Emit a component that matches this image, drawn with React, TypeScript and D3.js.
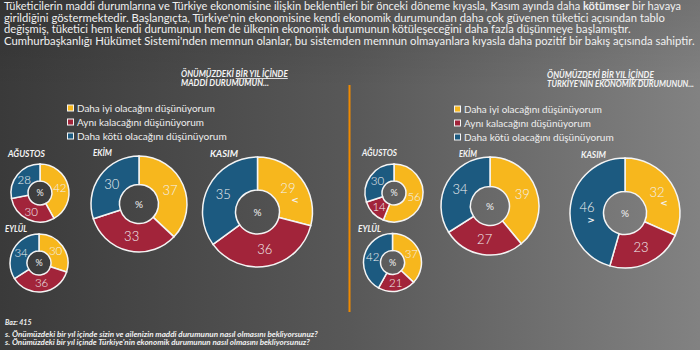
import { useLayoutEffect, useRef, useState } from "react";
import * as d3 from "d3";

const categories = ["Daha iyi olacağını düşünüyorum", "Aynı kalacağını düşünüyorum", "Daha kötü olacağını düşünüyorum"];
const months = ["AĞUSTOS", "EYLÜL", "EKİM", "KASIM"];
// values per month: [better, same, worse]
const personal = [[42, 30, 28], [30, 36, 34], [37, 33, 30], [29, 36, 35]];
const national = [[56, 14, 30], [37, 21, 42], [39, 27, 34], [32, 23, 46]];
// change markers: [panel, month, slice, symbol]
const markers: [number, number, number, string][] = [[0, 3, 0, "<"], [1, 3, 0, "<"], [1, 3, 2, ">"]];

const headerLines = [
  ["Tüketicilerin maddi durumlarına ve Türkiye ekonomisine ilişkin beklentileri bir önceki döneme kıyasla, Kasım ayında daha ", "kötümser", " bir havaya"],
  ["girildiğini göstermektedir. Başlangıçta, Türkiye'nin ekonomisine kendi ekonomik durumundan daha çok güvenen tüketici açısından tablo"],
  ["değişmiş, tüketici hem kendi durumunun hem de ülkenin ekonomik durumunun kötüleşeceğini daha fazla düşünmeye başlamıştır."],
  ["Cumhurbaşkanlığı Hükümet Sistemi'nden memnun olanlar, bu sistemden memnun olmayanlara kıyasla daha pozitif bir bakış açısında sahiptir."],
];
const headerWidths = [678, 662, 627, 691];
const footnotes = [
  "s. Önümüzdeki bir yıl içinde sizin ve ailenizin maddi durumunun nasıl olmasını bekliyorsunuz?",
  "s. Önümüzdeki bir yıl içinde Türkiye'nin ekonomik durumunun nasıl olmasını bekliyorsunuz?",
];

const colors = ["#F7B71D", "#A2243A", "#1C5A80"];
const font = "Lato, 'DejaVu Sans', sans-serif";

const panels = [
  {
    data: personal,
    title: ["ÖNÜMÜZDEKİ ", "BİR YIL İÇİNDE", "MADDİ DURUMUMUN..."],
    titleX: 181, titleY: 77, titleW: [107, 88],
    legendX: 70, legendY: 108,
    pies: [
      { cx: 40, cy: 193, r: 29, ri: 12, lx: 8, ly: 157, lw: 37 },
      { cx: 39, cy: 263, r: 29, ri: 12, lx: 5, ly: 232, lw: 22 },
      { cx: 139, cy: 204, r: 48, ri: 19.5, lx: 93, ly: 156, lw: 19 },
      { cx: 257.5, cy: 212, r: 55, ri: 22, lx: 210, ly: 157, lw: 28 },
    ],
  },
  {
    data: national,
    title: ["ÖNÜMÜZDEKİ ", "BİR YIL İÇİNDE", "TÜRKİYE'NİN EKONOMİK DURUMUNUN..."],
    titleX: 547, titleY: 78, titleW: [107, 147],
    legendX: 457, legendY: 109,
    pies: [
      { cx: 394, cy: 193, r: 29, ri: 12, lx: 362, ly: 156, lw: 35 },
      { cx: 392.5, cy: 262.5, r: 29, ri: 12, lx: 358, ly: 232, lw: 23 },
      { cx: 490, cy: 206, r: 49, ri: 19.5, lx: 459, ly: 157, lw: 18 },
      { cx: 625, cy: 213, r: 55, ri: 21.5, lx: 581, ly: 158, lw: 25 },
    ],
  },
];

const legendWidths = [138, 127, 150];

// text squeezed/stretched horizontally to a measured width
function FitText({ x, y, width, children, ...rest }: any) {
  const ref = useRef<SVGTextElement>(null);
  const [k, setK] = useState(1);
  useLayoutEffect(() => {
    const len = ref.current ? ref.current.getComputedTextLength() : 0;
    if (len > 0) setK(width / len);
  }, [width]);
  return (
    <text ref={ref} transform={`translate(${x},${y}) scale(${k},1)`} {...rest}>
      {children}
    </text>
  );
}

function Donut({ values, p, panelIdx, monthIdx }: any) {
  const pie = d3.pie<number>().sort(null).value((d) => d);
  const arcs = pie(values);
  const arc = d3.arc<d3.PieArcDatum<number>>().innerRadius(p.ri).outerRadius(p.r);
  const big = p.r > 40;
  return (
    <g transform={`translate(${p.cx},${p.cy})`}>
      {arcs.map((a, i) => (
        <path key={i} d={arc(a) || ""} fill={colors[i]} stroke="#f4f4f4" strokeWidth={1.5} />
      ))}
      {arcs.map((a, i) => {
        const [x, y] = arc.centroid(a);
        const m = markers.find((k) => k[0] === panelIdx && k[1] === monthIdx && k[2] === i);
        return (
          <g key={"l" + i}>
            <text x={x} y={y} dy="0.35em" textAnchor="middle" fill="#f2f2f2" fontSize={big ? 13 : 11.5} fontFamily={font} fontWeight={300}>
              {a.data}
            </text>
            {m && (
              <text x={x + (i === 2 ? 4 : 7)} y={y + (i === 2 ? 12 : 11)} dy="0.35em" textAnchor="middle" fill="#f2f2f2" fontSize={9} fontWeight="bold" fontFamily="'DejaVu Sans', sans-serif">
                {m[3]}
              </text>
            )}
          </g>
        );
      })}
      <text x={0} y={0} dy="0.35em" textAnchor="middle" fill="#f2f2f2" fontSize={big ? 10 : 9} fontFamily={font}>%</text>
    </g>
  );
}

export default function App() {
  return (
    <div style={{ position: "absolute", left: 0, top: 0 }}>
      <svg width={700} height={350} viewBox="0 0 700 350" style={{ display: "block" }}>
        <defs>
          <linearGradient id="bg" x1="0" y1="0" x2="1" y2="0">
            <stop offset="0" stopColor="#3a3a3a" />
            <stop offset="0.5" stopColor="#585858" />
            <stop offset="1" stopColor="#828282" />
          </linearGradient>
          <linearGradient id="shade" x1="0" y1="0" x2="0" y2="1">
            <stop offset="0" stopColor="#000" stopOpacity={0.12} />
            <stop offset="0.25" stopColor="#000" stopOpacity={0} />
            <stop offset="1" stopColor="#000" stopOpacity={0} />
          </linearGradient>
        </defs>
        <rect width={700} height={350} fill="url(#bg)" />
        <rect width={700} height={350} fill="url(#shade)" />

        {headerLines.map((parts, i) => (
          <FitText key={i} x={4} y={10 + i * 11.7} width={headerWidths[i]} fill="#f0f0f0" fontSize={10.5} fontFamily={font}>
            {parts.map((t, j) => (
              <tspan key={j} fontWeight={j === 1 ? "bold" : "normal"}>{t}</tspan>
            ))}
          </FitText>
        ))}

        <line x1={349.5} x2={349.5} y1={85} y2={312} stroke="#F08A00" strokeWidth={2} />

        {panels.map((pn, pi) => (
          <g key={pi}>
            <FitText x={pn.titleX} y={pn.titleY} width={pn.titleW[0]} fill="#f4f4f4" fontSize={8.5} fontWeight="bold" fontStyle="italic" fontFamily={font}>
              <tspan>{pn.title[0]}</tspan>
              <tspan textDecoration="underline">{pn.title[1]}</tspan>
            </FitText>
            <FitText x={pn.titleX} y={pn.titleY + 9} width={pn.titleW[1]} fill="#f4f4f4" fontSize={8.5} fontWeight="bold" fontStyle="italic" fontFamily={font}>
              {pn.title[2]}
            </FitText>

            {categories.map((c, i) => (
              <g key={c}>
                <rect x={pn.legendX - 2.5} y={pn.legendY + i * 14 - 3} width={6} height={6} fill={colors[i]} stroke="#f4f4f4" strokeWidth={1} />
                <FitText x={pn.legendX + 7} y={pn.legendY + i * 14 + 3.5} width={legendWidths[i]} fill="#eeeeee" fontSize={10} fontFamily={font}>
                  {c}
                </FitText>
              </g>
            ))}

            {pn.pies.map((p, mi) => (
              <g key={mi}>
                <FitText x={p.lx} y={p.ly} width={p.lw} fill="#f4f4f4" fontSize={8.5} fontWeight="bold" fontStyle="italic" fontFamily={font}>
                  {months[mi]}
                </FitText>
                <Donut values={pn.data[mi]} p={p} panelIdx={pi} monthIdx={mi} />
              </g>
            ))}
          </g>
        ))}

        <text x={5} y={325} fill="#f0f0f0" fontSize={7} fontWeight="bold" fontStyle="italic" fontFamily={font}>Baz: 415</text>
        {footnotes.map((f, i) => (
          <FitText key={i} x={5} y={337 + i * 7.5} width={i === 0 ? 313 : 305} fill="#f0f0f0" fontSize={7} fontWeight="bold" fontStyle="italic" fontFamily={font}>
            {f}
          </FitText>
        ))}
      </svg>
    </div>
  );
}
